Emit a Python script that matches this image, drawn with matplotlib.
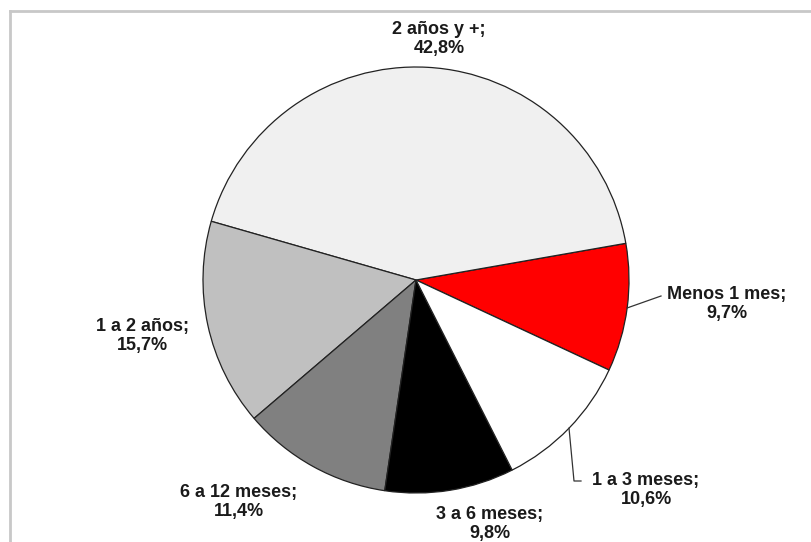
import numpy as np
import matplotlib.pyplot as plt
from matplotlib.lines import Line2D

# Pie data (order counterclockwise from the red slice)
labels = ['Menos 1 mes', '2 años y +', '1 a 2 años', '6 a 12 meses', '3 a 6 meses', '1 a 3 meses']
values = [9.7, 42.8, 15.7, 11.4, 9.8, 10.6]
value_text = ['9,7%', '42,8%', '15,7%', '11,4%', '9,8%', '10,6%']
colors = ['#ff0000', '#f0f0f0', '#c0c0c0', '#808080', '#000000', '#ffffff']

W, H = 811, 542
fig = plt.figure(figsize=(W / 100, H / 100), dpi=100)
ax = fig.add_axes([0, 0, 1, 1])

cx, cy, r = 416, H - 280, 213
start = -25.0
wedges, _ = ax.pie(values, colors=colors, startangle=start, counterclock=True,
                   center=(cx, cy), radius=r,
                   wedgeprops=dict(edgecolor='#222222', linewidth=0.9))
ax.set_xlim(0, W)
ax.set_ylim(0, H)
ax.set_aspect('equal')
ax.axis('off')

# label positions in pixel coords (from top)
label_pos = [(727, 304), (439, 39), (142, 336), (239, 502), (490, 524), (646, 490)]
font = dict(family='Liberation Sans', weight='bold', size=13, color='#1a1a1a')
for lab, txt, (x, y) in zip(labels, value_text, label_pos):
    ax.text(x, H - y, lab + ';\n' + txt, ha='center', va='center',
            linespacing=1.2, **font)

# leader lines for two slices, starting at wedge mid-angle on the rim
def rim(i):
    w = wedges[i]
    a = np.deg2rad((w.theta1 + w.theta2) / 2)
    return cx + r * np.cos(a), cy + r * np.sin(a)

x0, y0 = rim(0)
ax.plot([x0, 661], [y0, H - 296], color='#333333', lw=0.9)
x0, y0 = rim(5)
ax.plot([x0, 574, 581], [y0, H - 481, H - 481], color='#333333', lw=0.9)

# chart frame (top and left edges visible)
fig.add_artist(Line2D([10 / W, 1], [1 - 11 / H, 1 - 11 / H], transform=fig.transFigure,
                      color='#c8c8c8', lw=2))
fig.add_artist(Line2D([10 / W, 10 / W], [0, 1 - 11 / H], transform=fig.transFigure,
                      color='#c8c8c8', lw=2))

fig.savefig('out.png', dpi=100)
